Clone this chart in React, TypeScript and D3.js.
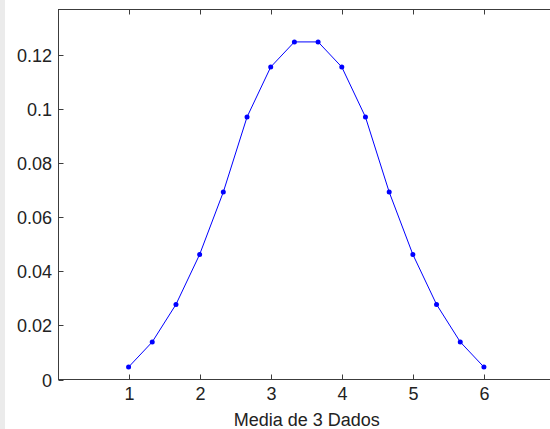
import * as d3 from "d3";

const MEANS = [1, 1.333, 1.667, 2, 2.333, 2.667, 3, 3.333, 3.667, 4, 4.333, 4.667, 5, 5.333, 5.667, 6];
const PROBS = [
  0.0046, 0.0139, 0.0278, 0.0463, 0.0694, 0.0972, 0.1157, 0.125,
  0.125, 0.1157, 0.0972, 0.0694, 0.0463, 0.0278, 0.0139, 0.0046,
];
const X_TICKS = [1, 2, 3, 4, 5, 6];
const Y_TICKS = [0, 0.02, 0.04, 0.06, 0.08, 0.1, 0.12];
const X_LABEL = "Media de 3 Dados";

const W = 550, H = 429;
const left = 58.5, right = 555, top = 9.5, bottom = 379.5;
const FONT = "'Liberation Sans', Arial, sans-serif";
const AXIS = "#3c3c3c";

export default function App() {
  const x = d3.scaleLinear().domain([0, 7]).range([left - 1, right]);
  const y = d3.scaleLinear().domain([0, 0.137]).range([bottom, top]);
  const pts = MEANS.map((m, i) => [m, PROBS[i]] as [number, number]);
  const line = d3.line<[number, number]>().x(d => x(d[0])).y(d => y(d[1]));
  const tl = 5;

  return (
    <div style={{ position: "fixed", left: 0, top: 0 }}>
      <svg width={W} height={H} style={{ display: "block", background: "#fff" }}>
        <rect x={0} y={0} width={5} height={H} fill="#ebebeb" />
        {/* box */}
        <rect x={left} y={top} width={right - left} height={bottom - top} fill="none" stroke={AXIS} strokeWidth={1} />

        {/* x ticks */}
        {X_TICKS.map(t => {
          const px = Math.round(x(t)) + 0.5;
          return (
            <g key={"x" + t}>
              <line x1={px} x2={px} y1={bottom} y2={bottom - tl} stroke={AXIS} />
              <line x1={px} x2={px} y1={top} y2={top + tl} stroke={AXIS} />
              <text x={px} y={400} textAnchor="middle" fontFamily={FONT} fontSize={18} fill="#222">{t}</text>
            </g>
          );
        })}

        {/* y ticks */}
        {Y_TICKS.map(t => {
          const py = Math.round(y(t)) + 0.5;
          return (
            <g key={"y" + t}>
              <line x1={left} x2={left + tl} y1={py} y2={py} stroke={AXIS} />
              <line x1={right} x2={right - tl} y1={py} y2={py} stroke={AXIS} />
              <text x={52} y={py + 6.5} textAnchor="end" fontFamily={FONT} fontSize={18} fill="#222">{String(t)}</text>
            </g>
          );
        })}

        <text x={(left + right) / 2} y={426} textAnchor="middle" fontFamily={FONT} fontSize={18} fill="#222">{X_LABEL}</text>

        <path d={line(pts) ?? ""} fill="none" stroke="#0000ff" strokeWidth={1} />
        {pts.map((d, i) => (
          <circle key={i} cx={x(d[0])} cy={y(d[1])} r={2.5} fill="#0000ff" />
        ))}
      </svg>
    </div>
  );
}
